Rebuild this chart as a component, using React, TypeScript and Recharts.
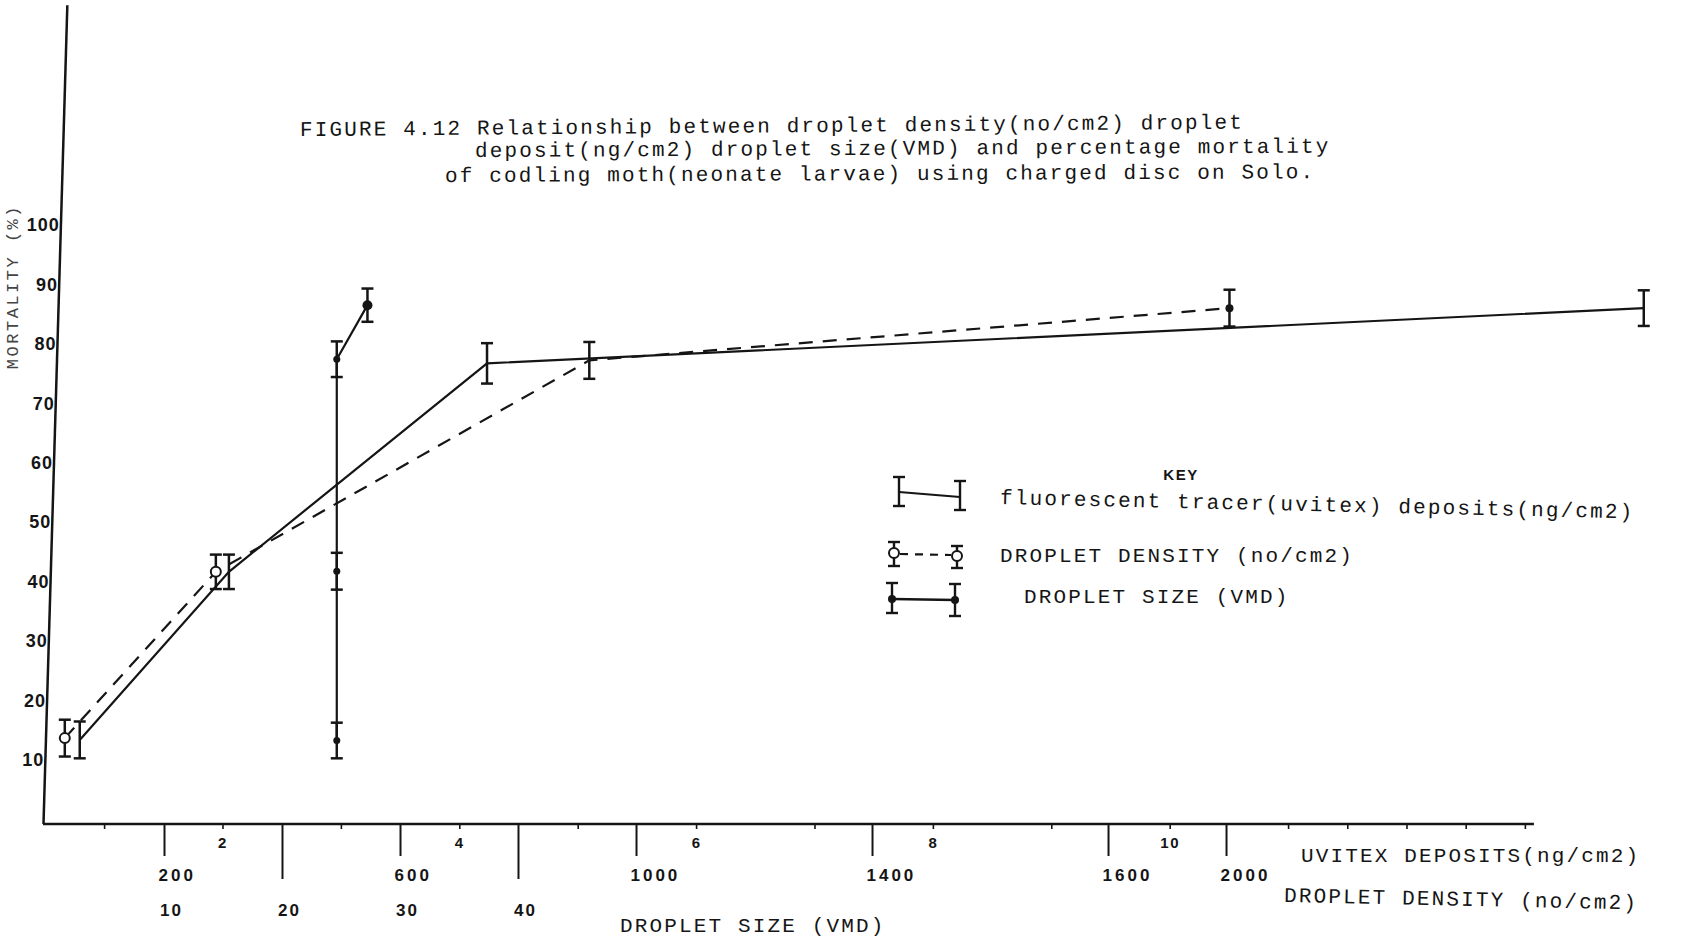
import React from "react";
import { ComposedChart, Line, XAxis, YAxis, ErrorBar, ReferenceLine } from "recharts";

// Percentage mortality of codling moth (neonate larvae) for four treatments,
// each plotted against its own x scale, with error half-widths.
const uvitexDeposits = [0.79, 2.05, 4.23, 14.0];
const uvitexMortality = [13.3, 41.6, 76.7, 86.0];
const uvitexError = [3.1, 2.9, 3.4, 3.0];

const dropletDensity = [31, 287, 920, 2005];
const densityMortality = [13.6, 41.6, 77.2, 86.0];
const densityError = [3.1, 2.9, 3.1, 3.1];

const dropletSize = [24.6, 24.6, 24.6, 27.2];
const sizeMortality = [13.2, 41.7, 77.4, 86.5];
const sizeError = [3.0, 3.1, 3.0, 2.8];

// Axis ticks and their printed labels
const mortalityTicks = [10, 20, 30, 40, 50, 60, 70, 80, 90, 100];
const uvitexTicks = [1, 2, 3, 4, 5, 6, 7, 8, 9, 10, 11, 11.5, 12, 12.5, 13];
const uvitexLabelled = [2, 4, 6, 8, 10];
const densityTicks = [200, 600, 1000, 1400, 1800, 2000];
const densityTickLabels = ["200", "600", "1000", "1400", "1600", "2000"];
const sizeTicks = [10, 20, 30, 40];

const titleLines = [
  "FIGURE 4.12 Relationship between droplet density(no/cm2) droplet",
  "deposit(ng/cm2) droplet size(VMD) and percentage mortality",
  "of codling moth(neonate larvae) using charged disc on Solo.",
];

// Scale extents (the hand-drawn axes share one baseline but differ in origin)
const Y_DOMAIN: [number, number] = [-0.86, 137.04];
const UV_DOMAIN: [number, number] = [0.4544, 14.137];
const DENSITY_DOMAIN: [number, number] = [-11.02, 2734.7];
const SIZE_DOMAIN: [number, number] = [-0.551, 136.74];

const W = 1682;
const H = 940;
// three 1px x axes stack under the plot and a 1px y axis sits left of it
const MARGIN = { top: 5, right: 22, bottom: 113, left: 39 };
const PLOT_BOTTOM = 824;

const INK = "#151515";
const MONO = "'Liberation Mono', 'DejaVu Sans Mono', monospace";
const SANS = "'Liberation Sans', Arial, sans-serif";

const rows = (xs: number[], ms: number[], es: number[]) =>
  xs.map((x, i) => ({ x, m: ms[i], e: es[i] }));

const uvitexRows = rows(uvitexDeposits, uvitexMortality, uvitexError);
const densityRows = rows(dropletDensity, densityMortality, densityError);
const sizeRows = rows(dropletSize, sizeMortality, sizeError);

// the vertical axis leans slightly to the right as it rises
const axisLean = (y: number) => 43.5 + 0.029 * (PLOT_BOTTOM - y);

const MortalityTick = (props: any) => {
  const { y, payload } = props;
  return (
    <text
      x={axisLean(y) - 1}
      y={y + 6.5}
      textAnchor="end"
      fontFamily={SANS}
      fontWeight={700}
      fontSize={18}
      letterSpacing={1}
      fill={INK}
    >
      {payload.value}
    </text>
  );
};

const UvitexTick = (props: any) => {
  const { x, payload } = props;
  const y = PLOT_BOTTOM;
  const labelled = uvitexLabelled.includes(payload.value);
  return (
    <g>
      <line x1={x} y1={y} x2={x} y2={y + 5} stroke={INK} strokeWidth={1.6} />
      {labelled && (
        <text
          x={x}
          y={y + 24}
          textAnchor="middle"
          fontFamily={SANS}
          fontWeight={700}
          fontSize={15}
          letterSpacing={1.5}
          fill={INK}
        >
          {payload.value}
        </text>
      )}
    </g>
  );
};

const DensityTick = (props: any) => {
  const { x, payload } = props;
  const y = PLOT_BOTTOM;
  const label = densityTickLabels[densityTicks.indexOf(payload.value)];
  return (
    <g>
      <line x1={x} y1={y} x2={x} y2={y + 32} stroke={INK} strokeWidth={2} />
      <text
        x={x - 6}
        y={y + 57}
        textAnchor="start"
        fontFamily={SANS}
        fontWeight={700}
        fontSize={17}
        letterSpacing={3}
        fill={INK}
      >
        {label}
      </text>
    </g>
  );
};

const SizeTick = (props: any) => {
  const { x, payload } = props;
  const y = PLOT_BOTTOM;
  return (
    <g>
      {payload.value % 20 === 0 && (
        <line x1={x} y1={y} x2={x} y2={y + 55} stroke={INK} strokeWidth={2} />
      )}
      <text
        x={x + 7}
        y={y + 92}
        textAnchor="middle"
        fontFamily={SANS}
        fontWeight={700}
        fontSize={17}
        letterSpacing={2}
        fill={INK}
      >
        {payload.value}
      </text>
    </g>
  );
};

const DensityDot = (props: any) => {
  const { cx, cy, index } = props;
  if (index <= 1)
    return <circle key={index} cx={cx} cy={cy} r={5} fill="#fff" stroke={INK} strokeWidth={2} />;
  if (index === 3) return <circle key={index} cx={cx} cy={cy} r={4} fill={INK} />;
  return <g key={index} />;
};

const SizeDot = (props: any) => {
  const { cx, cy, index } = props;
  return <circle key={index} cx={cx} cy={cy} r={index === 3 ? 5 : 3.5} fill={INK} />;
};

// an error-bar glyph used in the key
const KeyBar = ({ x, y1, y2 }: { x: number; y1: number; y2: number }) => (
  <g stroke={INK} strokeWidth={2.4}>
    <line x1={x} y1={y1} x2={x} y2={y2} />
    <line x1={x - 6} y1={y1} x2={x + 6} y2={y1} />
    <line x1={x - 6} y1={y2} x2={x + 6} y2={y2} />
  </g>
);

const monoText = {
  fontFamily: MONO,
  fontSize: 21,
  letterSpacing: 2.15,
  fill: INK,
} as const;

const xAxisCommon = {
  type: "number" as const,
  dataKey: "x",
  allowDataOverflow: true,
  interval: 0 as const,
  height: 1,
  tickSize: 0,
  tickMargin: 0,
  axisLine: false,
  tickLine: false,
};

export default function App() {
  return (
    <div style={{ position: "relative", width: W, height: H, background: "#fff" }}>
      <style>{`body{margin:0;background:#fff}`}</style>
      <div style={{ position: "absolute", left: 0, top: 0 }}>
        <ComposedChart width={W} height={H} margin={MARGIN}>
          <XAxis
            xAxisId="uv"
            {...xAxisCommon}
            domain={UV_DOMAIN}
            ticks={uvitexTicks}
            tick={<UvitexTick />}
          />
          <XAxis
            xAxisId="density"
            {...xAxisCommon}
            domain={DENSITY_DOMAIN}
            ticks={densityTicks}
            tick={<DensityTick />}
          />
          <XAxis
            xAxisId="size"
            {...xAxisCommon}
            domain={SIZE_DOMAIN}
            ticks={sizeTicks}
            tick={<SizeTick />}
          />
          <YAxis
            type="number"
            domain={Y_DOMAIN}
            allowDataOverflow
            ticks={mortalityTicks}
            interval={0}
            width={1}
            tickSize={0}
            tickMargin={0}
            axisLine={false}
            tickLine={false}
            tick={<MortalityTick />}
          />

          {/* hand-ruled axes */}
          <ReferenceLine
            xAxisId="density"
            segment={[
              { x: -5.9, y: Y_DOMAIN[0] },
              { x: 2521, y: Y_DOMAIN[0] },
            ]}
            stroke={INK}
            strokeWidth={2.5}
            ifOverflow="visible"
          />
          <ReferenceLine
            xAxisId="density"
            segment={[
              { x: -5.1, y: Y_DOMAIN[0] },
              { x: 35.3, y: 137 },
            ]}
            stroke={INK}
            strokeWidth={2.5}
            ifOverflow="visible"
          />

          <Line
            xAxisId="uv"
            data={uvitexRows}
            dataKey="m"
            type="linear"
            stroke={INK}
            strokeWidth={2.2}
            dot={false}
            activeDot={false}
            isAnimationActive={false}
          >
            <ErrorBar dataKey="e" width={6} stroke={INK} strokeWidth={2.5} direction="y" />
          </Line>
          <Line
            xAxisId="density"
            data={densityRows}
            dataKey="m"
            type="linear"
            stroke={INK}
            strokeWidth={2.2}
            strokeDasharray="14 10"
            dot={DensityDot}
            activeDot={false}
            isAnimationActive={false}
          >
            <ErrorBar dataKey="e" width={6} stroke={INK} strokeWidth={2.5} direction="y" />
          </Line>
          <Line
            xAxisId="size"
            data={sizeRows}
            dataKey="m"
            type="linear"
            stroke={INK}
            strokeWidth={2.2}
            dot={SizeDot}
            activeDot={false}
            isAnimationActive={false}
          >
            <ErrorBar dataKey="e" width={6} stroke={INK} strokeWidth={2.5} direction="y" />
          </Line>
        </ComposedChart>
      </div>

      <svg
        width={W}
        height={H}
        style={{ position: "absolute", left: 0, top: 0, pointerEvents: "none" }}
      >
        {/* title */}
        <text x={300} y={136} transform="rotate(-0.45 300 136)" {...monoText}>
          {titleLines[0]}
        </text>
        <text x={475} y={157} transform="rotate(-0.3 475 157)" {...monoText}>
          {titleLines[1]}
        </text>
        <text x={445} y={182} transform="rotate(-0.25 445 182)" {...monoText}>
          {titleLines[2]}
        </text>

        {/* vertical axis title, running up the left edge */}
        <text
          transform="translate(18 204) rotate(-90)"
          x={0}
          y={0}
          textAnchor="end"
          fontFamily={MONO}
          fontSize={17}
          letterSpacing={2.5}
          fill="#444"
        >
          MORTALITY (%)
        </text>

        {/* horizontal axis titles */}
        <text x={1301} y={862} {...monoText}>
          UVITEX DEPOSITS(ng/cm2)
        </text>
        <text x={1284} y={902} transform="rotate(1.2 1284 902)" {...monoText}>
          DROPLET DENSITY (no/cm2)
        </text>
        <text x={620} y={932} {...monoText}>
          DROPLET SIZE (VMD)
        </text>

        {/* key */}
        <text
          x={1181}
          y={480}
          textAnchor="middle"
          fontFamily={SANS}
          fontWeight={700}
          fontSize={15}
          letterSpacing={1.5}
          fill={INK}
        >
          KEY
        </text>

        <KeyBar x={899} y1={477} y2={506} />
        <KeyBar x={960} y1={481} y2={510} />
        <line x1={899} y1={492} x2={960} y2={497} stroke={INK} strokeWidth={2.2} />
        <text x={1000} y={504} transform="rotate(1.3 1000 504)" {...monoText}>
          fluorescent tracer(uvitex) deposits(ng/cm2)
        </text>

        <KeyBar x={894} y1={542} y2={566} />
        <KeyBar x={957} y1={546} y2={568} />
        <line x1={900} y1={554} x2={951} y2={555} stroke={INK} strokeWidth={2.2} strokeDasharray="8 7" />
        <circle cx={894} cy={553} r={5} fill="#fff" stroke={INK} strokeWidth={2} />
        <circle cx={957} cy={556} r={5} fill="#fff" stroke={INK} strokeWidth={2} />
        <text x={1000} y={562} {...monoText}>
          DROPLET DENSITY (no/cm2)
        </text>

        <KeyBar x={892} y1={583} y2={613} />
        <KeyBar x={955} y1={584} y2={616} />
        <line x1={892} y1={599} x2={955} y2={600} stroke={INK} strokeWidth={2.4} />
        <circle cx={892} cy={599} r={4} fill={INK} />
        <circle cx={955} cy={600} r={4} fill={INK} />
        <text x={1024} y={603} {...monoText}>
          DROPLET SIZE (VMD)
        </text>
      </svg>
    </div>
  );
}
